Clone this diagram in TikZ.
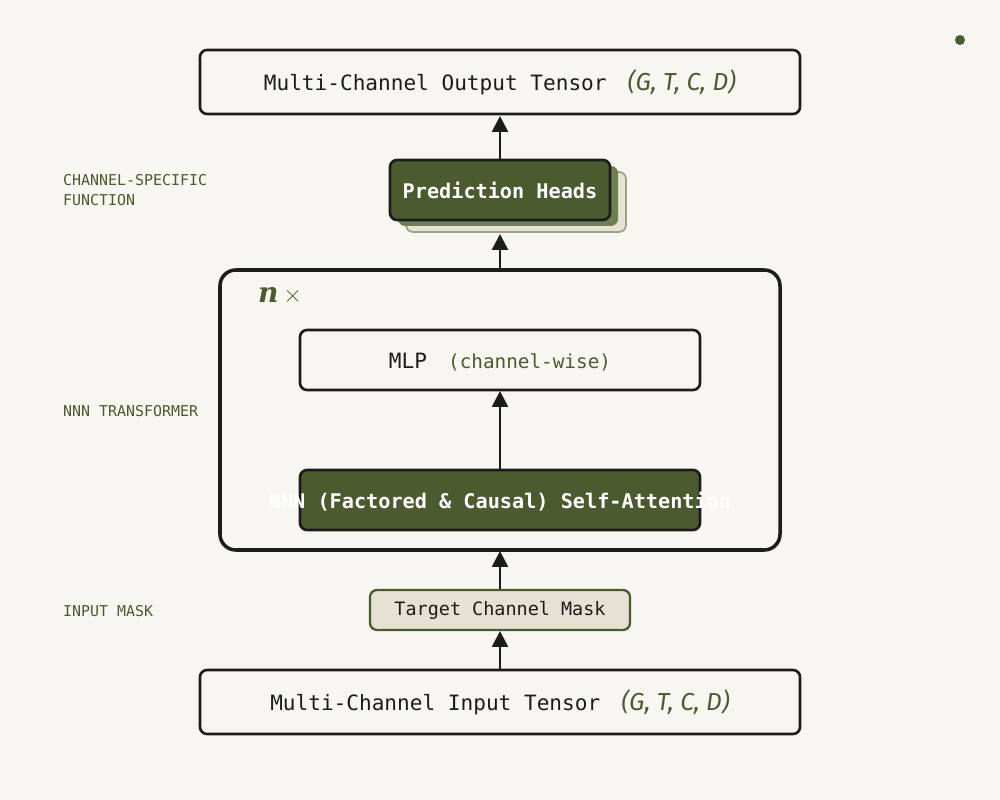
\documentclass[tikz,border=0pt]{standalone}
\usepackage{fontspec}
\setmonofont{DejaVu Sans Mono}
\newfontfamily\tup{Fira Sans}
\newfontfamily\nfont{DejaVu Serif}
\usetikzlibrary{arrows.meta}
\definecolor{bg}{HTML}{F8F6F0}
\definecolor{olive}{HTML}{4B5A2F}
\definecolor{ink}{HTML}{1C1C1C}
\definecolor{beige}{HTML}{E6E1D3}
\definecolor{mid}{HTML}{6E7F52}
\begin{document}
\begin{tikzpicture}[x=0.02cm,y=-0.02cm,
  box/.style={draw=ink,line width=1.5pt,rounded corners=4pt,fill=bg},
  gbox/.style={draw=ink,line width=1.5pt,rounded corners=4pt,fill=olive},
  lab/.style={font=\ttfamily\fontsize{8.5}{11}\selectfont,text=olive,anchor=west,align=left},
  arr/.style={draw=ink,line width=1.5pt,-{Triangle[length=9pt,width=9pt]}},
  txt/.style={font=\ttfamily\fontsize{12}{14}\selectfont,text=ink},
  tp/.style={font=\tup\itshape\fontsize{14}{16}\selectfont,text=olive}]
\fill[bg] (0,0) rectangle (1000,800);
\fill[olive] (960,40) circle (5);
% output
\draw[box] (200,50) rectangle (800,114);
\node[txt] (out) at (500,82) {Multi-Channel Output Tensor\quad\tup\itshape\color{olive}\fontsize{14}{16}\selectfont (G, T, C, D)};
\coordinate (outb) at (500,116);
% prediction heads
\draw[draw=mid!70,line width=1pt,rounded corners=4pt,fill=beige] (406,172) rectangle (626,232);
\draw[draw=none,rounded corners=4pt,fill=mid] (398,166) rectangle (618,226);
\draw[gbox] (390,160) rectangle (610,220);
\node[font=\ttfamily\bfseries\fontsize{11.5}{14}\selectfont,text=white] (ph) at (500,190) {Prediction Heads};
\coordinate (pht) at (500,159);
\coordinate (phb) at (500,234);
% container
\draw[draw=ink,line width=2pt,rounded corners=9pt] (220,270) rectangle (780,550);
\coordinate (ct) at (500,269);
\coordinate (cb) at (500,551);
\node[anchor=west,text=olive,font=\nfont\bfseries\itshape\fontsize{16}{18}\selectfont] (n) at (252,295) {n\,\textnormal{\normalfont\fontsize{14}{16}\selectfont ×}};
% MLP
\draw[box] (300,330) rectangle (700,390);
\node[txt] (mlp) at (500,362) {MLP\quad{\color{olive}\fontsize{11}{14}\selectfont(channel-wise)}};
\coordinate (mlpb) at (500,391);
% attention
\draw[gbox] (300,470) rectangle (700,530);
\node[font=\ttfamily\bfseries\fontsize{11.5}{14}\selectfont,text=white] (att) at (500,502) {NNN (Factored \& Causal) Self-Attention};
\coordinate (attt) at (500,469);
% mask
\draw[draw=olive,line width=1.3pt,rounded corners=4pt,fill=beige] (370,590) rectangle (630,630);
\node[font=\ttfamily\fontsize{10.5}{13}\selectfont,text=ink] (mask) at (500,610) {Target Channel Mask};
\coordinate (maskt) at (500,589);
\coordinate (maskb) at (500,631);
% input
\draw[box] (200,670) rectangle (800,734);
\node[txt] (in) at (500,702) {Multi-Channel Input Tensor\quad\tup\itshape\color{olive}\fontsize{14}{16}\selectfont (G, T, C, D)};
\coordinate (int) at (500,669);
% arrows
\draw[arr] (int) -- (maskb);
\draw[arr] (maskt) -- (cb);
\draw[arr] (attt) -- (mlpb);
\draw[arr] (ct) -- (phb);
\draw[arr] (pht) -- (outb);
% side labels
\node[lab] (l1) at (57,190) {CHANNEL-SPECIFIC\\FUNCTION};
\node[lab] (l2) at (57,411) {NNN TRANSFORMER};
\node[lab] (l3) at (57,611) {INPUT MASK};
\end{tikzpicture}
\end{document}
